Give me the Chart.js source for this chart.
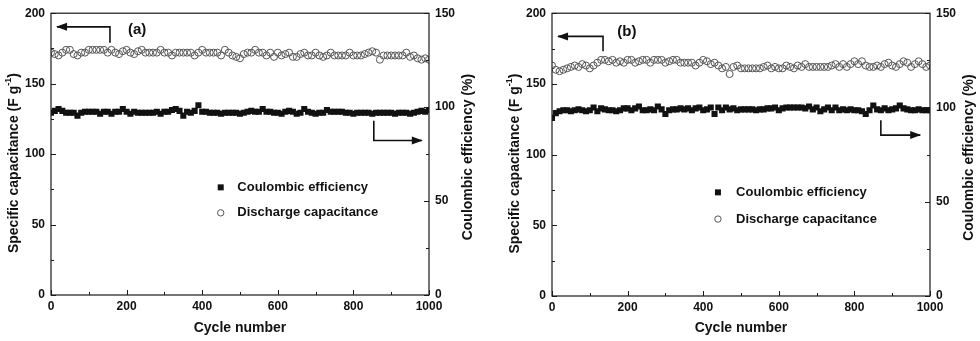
<!DOCTYPE html>
<html>
<head>
<meta charset="utf-8">
<script src="https://cdn.jsdelivr.net/npm/chart.js@4.4.0/dist/chart.umd.min.js"></script>
<style>
html, body { margin: 0; padding: 0; background: #fff; overflow: hidden; }
#wrap { position: relative; width: 980px; height: 341px; }
canvas { position: absolute; top: 0; }
#chartA { left: 0; }
#chartB { left: 501px; }
</style>
</head>
<body>
<div id="wrap">
  <canvas id="chartA" width="490" height="341"></canvas>
  <canvas id="chartB" width="479" height="341"></canvas>
</div>
<script>
// cycle numbers shared by both panels
var CYCLES = [0,10,20,30,40,50,60,70,80,90,100,110,120,130,140,150,160,170,180,190,200,
  210,220,230,240,250,260,270,280,290,300,310,320,330,340,350,360,370,380,390,400,
  410,420,430,440,450,460,470,480,490,500,510,520,530,540,550,560,570,580,590,600,
  610,620,630,640,650,660,670,680,690,700,710,720,730,740,750,760,770,780,790,800,
  810,820,830,840,850,860,870,880,890,900,910,920,930,940,950,960,970,980,990,1000];

// panel (a) - discharge capacitance (F g-1)
var A_CAP = [172,171,170,172,174,174,171,170,172,172,174,174,174,174,174,172,174,172,171,173,174,
  172,171,173,174,172,172,172,172,174,172,172,170,172,172,172,172,172,170,172,174,
  172,172,172,172,170,174,172,170,169,168,171,172,172,174,172,172,170,172,169,172,
  170,171,172,169,169,171,172,170,170,172,170,169,170,172,170,170,170,170,172,170,
  170,170,171,172,173,172,167,170,170,170,170,170,170,172,169,170,168,167,168,167];
// panel (a) - coulombic efficiency (%)
var A_CE = [97,98,99,98,97,97,97,95.5,97,97.5,97.5,97.5,97.5,96.5,97.5,97.5,96.5,97.5,97.5,99,97.5,
  96.5,97.5,97,97,97,97,97,97.5,96.5,97.5,97.5,98.5,99,98,95.5,97.5,97,98,101,97.5,
  97.5,97,97,97,96.5,97,97,97,97,96.5,97,97.5,98,97.5,97.5,99,97.5,97.5,97,97,
  96.5,97.5,98,97.5,96.5,97,99,97.5,97,96.5,97,97,98.5,97.5,97.5,97.5,97.5,97,97,96.5,
  97,97,97,97,96.5,97,97,97,97,97,96.5,97,97,97,96.5,97,97.5,98,97.5,98.5];

// panel (b) - discharge capacitance (F g-1)
var B_CAP = [163,160,159,160,161,162,163,162,164,163,161,163,165,167,167,166,167,165,166,165,167,
  167,165,166,167,167,165,167,167,167,165,166,167,167,165,165,165,165,163,165,167,
  166,164,165,163,161,162,157,162,163,161,161,161,161,161,161,162,163,161,162,161,
  161,163,162,161,163,162,164,162,162,162,162,162,162,163,164,162,164,162,164,166,
  164,166,163,162,162,163,162,164,165,163,162,164,166,165,162,164,166,164,162,163];
// panel (b) - coulombic efficiency (%)
var B_CE = [94.5,97,98,98.5,98.5,98,98.5,99,98.5,98,98.5,100,98,99.5,99,98.5,98.5,98,98.5,99.5,99.5,
  98.5,99.5,100.5,98.5,98.5,99,98.5,100.5,99,96.5,98.5,99,99,99.5,99,99.5,98.5,99.5,100,98.5,
  99,100,96.5,100,98.5,100,99,99.5,98.5,99,99,99,99,98.5,99,99,99.5,99.5,100,98.5,
  99.5,100,100,100,100,100,99.5,100.5,99,100,98,99,100,98.5,100,98.5,99,98.5,99,98.5,
  98.5,98,96.5,98.5,101,99,98.5,99.5,98.5,99,99.5,101,99.5,99,98.5,98.5,99,98.5,98.5,98.5];

// axis tick values
var X_MAJOR = [0,200,400,600,800,1000];
var X_MINOR = [100,300,500,700,900];
var LEFT_MAJOR = [0,50,100,150,200];
var LEFT_MINOR = [25,75,125,175];
var RIGHT_MAJOR = [0,50,100,150];
var RIGHT_MINOR = [25,75,125];

var LEGEND_LABELS = ['Coulombic efficiency', 'Discharge capacitance'];

var FONT = '"Liberation Sans", Arial, Helvetica, sans-serif';
Chart.defaults.font.family = FONT;
Chart.defaults.color = '#111';

function toPoints(values) {
    return CYCLES.map(function (c, i) { return {x: c, y: values[i]}; });
}

function plainTick(value) {
    return String(value);
}

function drawArrow(ctx, pts) {
    // polyline with arrow head at the last point
    ctx.beginPath();
    ctx.moveTo(pts[0][0], pts[0][1]);
    for (var i = 1; i < pts.length; i++) ctx.lineTo(pts[i][0], pts[i][1]);
    ctx.stroke();
    var p = pts[pts.length - 1], q = pts[pts.length - 2];
    var ang = Math.atan2(p[1] - q[1], p[0] - q[0]);
    var len = 10, half = 4;
    ctx.beginPath();
    ctx.moveTo(p[0] + Math.cos(ang), p[1] + Math.sin(ang));
    ctx.lineTo(p[0] - len * Math.cos(ang) + half * Math.sin(ang), p[1] - len * Math.sin(ang) - half * Math.cos(ang));
    ctx.lineTo(p[0] - len * Math.cos(ang) - half * Math.sin(ang), p[1] - len * Math.sin(ang) + half * Math.cos(ang));
    ctx.closePath();
    ctx.fill();
}

function drawVTitle(ctx, cx, cy, parts) {
    // rotated text reading bottom to top, parts may be superscript
    ctx.save();
    ctx.translate(cx, cy);
    ctx.rotate(-Math.PI / 2);
    ctx.textBaseline = 'middle';
    ctx.textAlign = 'left';
    var total = 0;
    parts.forEach(function (p) {
        ctx.font = p.sup ? 'bold 9px ' + FONT : 'bold 14px ' + FONT;
        p.w = ctx.measureText(p.t).width;
        total += p.w;
    });
    var x = -total / 2;
    parts.forEach(function (p) {
        ctx.font = p.sup ? 'bold 9px ' + FONT : 'bold 14px ' + FONT;
        ctx.fillText(p.t, x, p.sup ? -5 : 0);
        x += p.w;
    });
    ctx.restore();
}

var framePlugin = {
    id: 'frame',
    afterDraw: function (chart) {
        var o = chart.options.plugins.frame;
        var ctx = chart.ctx, a = chart.chartArea;
        var sx = chart.scales.x, sl = chart.scales.y, sr = chart.scales.y1;
        ctx.save();
        ctx.strokeStyle = '#1a1a1a';
        ctx.fillStyle = '#111';
        ctx.lineWidth = 1.2;
        ctx.strokeRect(a.left, a.top, a.right - a.left, a.bottom - a.top);

        // inward tick marks
        ctx.lineWidth = 1;
        ctx.beginPath();
        X_MAJOR.concat(X_MINOR).forEach(function (v) {
            var px = Math.round(sx.getPixelForValue(v)) + 0.5;
            var len = X_MAJOR.indexOf(v) > -1 ? 5 : 3;
            ctx.moveTo(px, a.bottom); ctx.lineTo(px, a.bottom - len);
        });
        LEFT_MAJOR.concat(LEFT_MINOR).forEach(function (v) {
            var py = Math.round(sl.getPixelForValue(v)) + 0.5;
            var len = LEFT_MAJOR.indexOf(v) > -1 ? 5 : 3;
            ctx.moveTo(a.left, py); ctx.lineTo(a.left + len, py);
        });
        RIGHT_MAJOR.concat(RIGHT_MINOR).forEach(function (v) {
            var py = Math.round(sr.getPixelForValue(v)) + 0.5;
            var len = RIGHT_MAJOR.indexOf(v) > -1 ? 5 : 3;
            ctx.moveTo(a.right, py); ctx.lineTo(a.right - len, py);
        });
        ctx.stroke();

        // y axis titles
        var midY = (a.top + a.bottom) / 2;
        drawVTitle(ctx, a.left - 37, midY + 9, [
            {t: 'Specific capacitance (F g'}, {t: '-1', sup: true}, {t: ')'}
        ]);
        drawVTitle(ctx, a.right + 39, midY + 3, [{t: 'Coulombic efficiency (%)'}]);

        // arrows
        ctx.lineWidth = 1.6;
        ctx.strokeStyle = '#111';
        [o.arrowLeft, o.arrowRight].forEach(function (arr) {
            drawArrow(ctx, arr.map(function (p) {
                return [sx.getPixelForValue(p[0]), sl.getPixelForValue(p[1])];
            }));
        });

        // panel label
        ctx.font = 'bold 15px ' + FONT;
        ctx.textAlign = 'center';
        ctx.textBaseline = 'middle';
        ctx.fillText(o.label, sx.getPixelForValue(o.labelPos[0]), sl.getPixelForValue(o.labelPos[1]));

        // legend
        var lx = sx.getPixelForValue(o.legend[0]);
        var tx = sx.getPixelForValue(o.legend[1]);
        var ly1 = sl.getPixelForValue(o.legend[2]);
        var ly2 = sl.getPixelForValue(o.legend[3]);
        ctx.fillStyle = '#111';
        ctx.fillRect(lx - 3, ly1 - 3, 6, 6);
        ctx.beginPath();
        ctx.arc(lx, ly2, 3.2, 0, Math.PI * 2);
        ctx.strokeStyle = '#555';
        ctx.lineWidth = 1;
        ctx.stroke();
        ctx.font = 'bold 13px ' + FONT;
        ctx.textAlign = 'left';
        ctx.fillText(LEGEND_LABELS[0], tx, ly1);
        ctx.fillText(LEGEND_LABELS[1], tx, ly2);
        ctx.restore();
    }
};

function makeChart(canvasId, cap, ce, sizes, frameOpts) {
    return new Chart(document.getElementById(canvasId), {
        type: 'scatter',
        data: {
            datasets: [{
                label: LEGEND_LABELS[0],
                data: toPoints(ce),
                yAxisID: 'y1',
                pointStyle: 'rect',
                pointRadius: 4.3,
                backgroundColor: '#111',
                borderColor: '#111',
                borderWidth: 0
            }, {
                label: LEGEND_LABELS[1],
                data: toPoints(cap),
                yAxisID: 'y',
                pointStyle: 'circle',
                pointRadius: 3.5,
                backgroundColor: 'rgba(0,0,0,0)',
                borderColor: '#555',
                borderWidth: 1
            }]
        },
        options: {
            responsive: false,
            animation: false,
            devicePixelRatio: 1,
            layout: { padding: { top: sizes.top, left: 0, right: 0, bottom: 0 } },
            scales: {
                x: {
                    type: 'linear', min: 0, max: 1000,
                    grid: { display: false, drawTicks: false },
                    border: { display: false },
                    ticks: { stepSize: 200, padding: 4, font: { size: 12, weight: 'bold' }, maxRotation: 0,
                             callback: plainTick },
                    title: { display: true, text: 'Cycle number', font: { size: 14, weight: 'bold' },
                             padding: { top: 0, bottom: 4 } },
                    afterFit: function (s) { s.height = sizes.bottom; }
                },
                y: {
                    position: 'left', min: 0, max: 200,
                    grid: { display: false, drawTicks: false },
                    border: { display: false },
                    ticks: { stepSize: 50, padding: 6, font: { size: 12, weight: 'bold' }, callback: plainTick },
                    afterFit: function (s) { s.width = sizes.left; }
                },
                y1: {
                    position: 'right', min: 0, max: 150,
                    grid: { display: false, drawTicks: false },
                    border: { display: false },
                    ticks: { stepSize: 50, padding: 6, font: { size: 12, weight: 'bold' }, callback: plainTick },
                    afterFit: function (s) { s.width = sizes.right; }
                }
            },
            plugins: {
                legend: { display: false },
                tooltip: { enabled: false },
                frame: frameOpts
            }
        },
        plugins: [framePlugin]
    });
}

makeChart('chartA', A_CAP, A_CE, {top: 7, bottom: 46, left: 51, right: 61}, {
    label: '(a)', labelPos: [228, 188],
    arrowLeft: [[156, 179], [156, 190.3], [16, 190.3]],
    arrowRight: [[854, 123.6], [854, 109.7], [981, 109.7]],
    legend: [449, 493, 76.4, 58.3]
});

makeChart('chartB', B_CAP, B_CE, {top: 9, bottom: 45, left: 51, right: 50}, {
    label: '(b)', labelPos: [198, 187],
    arrowLeft: [[135, 173.1], [135, 183.6], [16, 183.6]],
    arrowRight: [[870, 124.3], [870, 113.8], [974, 113.8]],
    legend: [439, 487, 73.3, 54.4]
});
</script>
</body>
</html>
